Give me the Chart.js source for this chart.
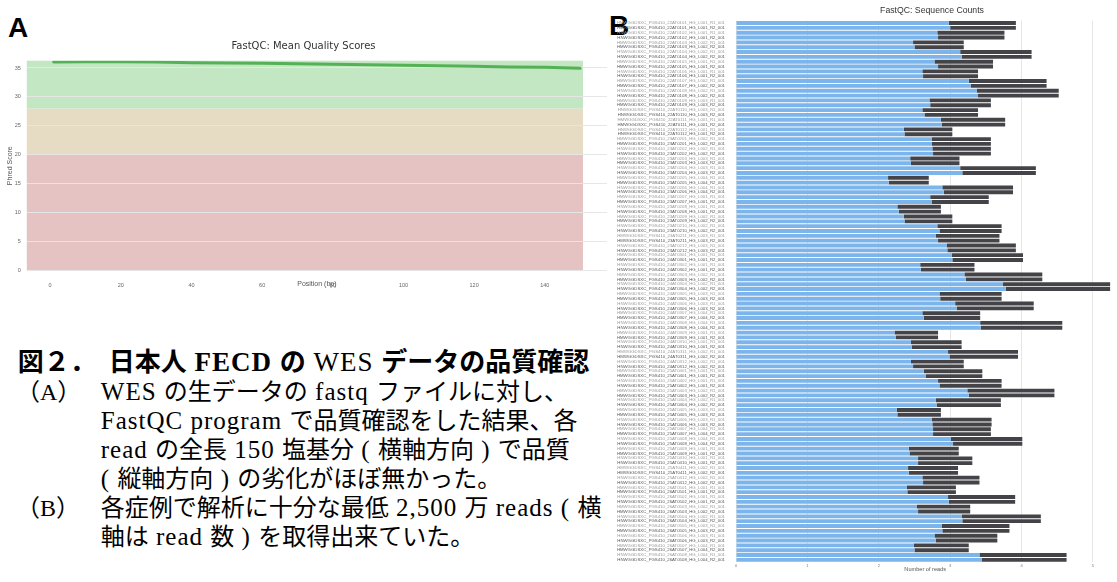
<!DOCTYPE html>
<html lang="ja">
<head>
<meta charset="utf-8">
<script src="https://cdn.jsdelivr.net/npm/chart.js@4"></script>
<style>
  html, body { margin: 0; padding: 0; background: #fff; }
  body { width: 1117px; height: 582px; position: relative; overflow: hidden; }
  .panel-letter { position: absolute; font: bold 28px "Liberation Sans", Arial, sans-serif; color: #000; line-height: 28px; }
  #qualityChart { position: absolute; left: 0; top: 30px; }
  #countsChart { position: absolute; left: 615px; top: 0; }
  #countsTitle { position: absolute; left: 932px; top: 10px; transform: translate(-50%, -50%);
    font: 8.7px "Liberation Sans", Arial, sans-serif; color: #333; white-space: nowrap; }
  #caption { position: absolute; left: 0; top: 347.7px; font-family: "Liberation Serif", "Noto Sans CJK JP", serif; color: #000; white-space: nowrap; }
  #caption .l { letter-spacing: 1px; line-height: 0; }
  .cap-title { margin-left: 17.8px; font-size: 26px; line-height: 30px; font-weight: bold; }
  .cap-title .l { font-size: 27px; }
  .cap-title .thin { font-weight: normal; }
  .item { position: relative; padding-left: 100.8px; font-size: 24px; line-height: 29px; }
  .item .l { font-size: 25px; }
  .item .tag { position: absolute; left: 16px; top: 0; }
</style>
</head>
<body>
<div class="panel-letter" style="left:8px; top:14px;">A</div>
<div class="panel-letter" style="left:609px; top:12px;">B</div>
<canvas id="qualityChart" width="634" height="265"></canvas>
<canvas id="countsChart" width="502" height="582"></canvas>
<div id="countsTitle">FastQC: Sequence Counts</div>
<div id="caption">
  <div class="cap-title">図２．　日本人<span class="l"> FECD </span>の<span class="l thin"> WES </span>データの品質確認</div>
  <div class="item"><span class="tag">（A）</span><span class="l">WES </span>の生データの<span class="l"> fastq </span>ファイルに対し、<br><span class="l">FastQC program </span>で品質確認をした結果、各<br><span class="l">read </span>の全長<span class="l"> 150 </span>塩基分<span class="l"> ( </span>横軸方向<span class="l"> ) </span>で品質<br><span class="l">( </span>縦軸方向<span class="l"> ) </span>の劣化がほぼ無かった。</div>
  <div class="item"><span class="tag">（B）</span>各症例で解析に十分な最低<span class="l"> 2,500 </span>万<span class="l"> reads ( </span>横<br>軸は<span class="l"> read </span>数<span class="l"> ) </span>を取得出来ていた。</div>
</div>
<script>
// ---- panel A: mean quality per base position ----
const positions = [1, 10, 20, 30, 40, 50, 60, 70, 80, 90, 100, 110, 120, 130, 140, 150];
const meanQuality = [36.04, 36.1, 36.1, 36.04, 35.92, 35.87, 35.81, 35.75, 35.63, 35.58, 35.46, 35.4, 35.29, 35.17, 35.12, 34.94];
const positionTicks = [0, 20, 40, 60, 80, 100, 120, 140];
const phredTicks = [0, 5, 10, 15, 20, 25, 30, 35];
// quality zones: [from, to] in Phred score
const poorZone = [0, 20];
const warnZone = [20, 28];
const goodZone = [28, 36.26];

// ---- panel B: read counts per fastq file (x 10^7 reads) ----
const sampleNames = [
  "HMWGGDSXC_PGS410_22AT0101_HG_L001", "HNWGGDSXC_PGS410_22AT0102_HG_L001", "HMWGGDSXC_PGS410_22AT0103_HG_L002",
  "HNWGGDSXC_PGS410_22AT0104_HG_L002", "HMWGGDSXC_PGS410_22AT0105_HG_L001", "HNWGGDSXC_PGS410_22AT0106_HG_L001",
  "HMWGGDSXC_PGS410_22AT0107_HG_L002", "HNWGGDSXC_PGS410_22AT0108_HG_L002", "HMWGGDSXC_PGS410_22AT0109_HG_L003",
  "HNWGGDSXC_PGS410_22AT0110_HG_L003", "HMWGGDSXC_PGS410_22AT0111_HG_L001", "HNWGGDSXC_PGS410_22AT0112_HG_L001",
  "HMWGGDSXC_PGS410_23AT0201_HG_L002", "HNWGGDSXC_PGS410_23AT0202_HG_L002", "HMWGGDSXC_PGS410_23AT0203_HG_L003",
  "HNWGGDSXC_PGS410_23AT0204_HG_L003", "HMWGGDSXC_PGS410_23AT0205_HG_L004", "HNWGGDSXC_PGS410_23AT0206_HG_L004",
  "HMWGGDSXC_PGS410_23AT0207_HG_L001", "HNWGGDSXC_PGS410_23AT0208_HG_L001", "HMWGGDSXC_PGS410_23AT0209_HG_L002",
  "HNWGGDSXC_PGS410_23AT0210_HG_L002", "HMWGGDSXC_PGS410_23AT0211_HG_L003", "HNWGGDSXC_PGS410_23AT0212_HG_L003",
  "HMWGGDSXC_PGS410_24AT0301_HG_L001", "HNWGGDSXC_PGS410_24AT0302_HG_L001", "HMWGGDSXC_PGS410_24AT0303_HG_L002",
  "HNWGGDSXC_PGS410_24AT0304_HG_L002", "HMWGGDSXC_PGS410_24AT0305_HG_L003", "HNWGGDSXC_PGS410_24AT0306_HG_L003",
  "HMWGGDSXC_PGS410_24AT0307_HG_L004", "HNWGGDSXC_PGS410_24AT0308_HG_L004", "HMWGGDSXC_PGS410_24AT0309_HG_L001",
  "HNWGGDSXC_PGS410_24AT0310_HG_L001", "HMWGGDSXC_PGS410_24AT0311_HG_L002", "HNWGGDSXC_PGS410_24AT0312_HG_L002",
  "HMWGGDSXC_PGS410_25AT0401_HG_L001", "HNWGGDSXC_PGS410_25AT0402_HG_L001", "HMWGGDSXC_PGS410_25AT0403_HG_L002",
  "HNWGGDSXC_PGS410_25AT0404_HG_L002", "HMWGGDSXC_PGS410_25AT0405_HG_L003", "HNWGGDSXC_PGS410_25AT0406_HG_L003",
  "HMWGGDSXC_PGS410_25AT0407_HG_L004", "HNWGGDSXC_PGS410_25AT0408_HG_L004", "HMWGGDSXC_PGS410_25AT0409_HG_L001",
  "HNWGGDSXC_PGS410_25AT0410_HG_L001", "HMWGGDSXC_PGS410_25AT0411_HG_L002", "HNWGGDSXC_PGS410_25AT0412_HG_L002",
  "HMWGGDSXC_PGS410_26AT0501_HG_L001", "HNWGGDSXC_PGS410_26AT0502_HG_L001", "HMWGGDSXC_PGS410_26AT0503_HG_L002",
  "HNWGGDSXC_PGS410_26AT0504_HG_L002", "HMWGGDSXC_PGS410_26AT0505_HG_L003", "HNWGGDSXC_PGS410_26AT0506_HG_L003",
  "HMWGGDSXC_PGS410_26AT0507_HG_L004", "HNWGGDSXC_PGS410_26AT0508_HG_L004"
];
const readSuffixes = ["_R1_001", "_R2_001"];
// unique reads, one value per fastq row (R1, R2 of each sample)
const uniqueReads = [
  2.98, 3.00, 2.82, 2.83, 2.48, 2.50, 3.14, 3.16, 2.78, 2.83, 2.61, 2.62, 3.26, 3.29, 3.37, 3.39,
  2.71, 2.72, 2.61, 2.64, 2.87, 2.88, 2.35, 2.36, 2.74, 2.74, 2.75, 2.76, 2.44, 2.45, 3.14, 3.17,
  2.13, 2.14, 2.89, 2.91, 2.72, 2.74, 2.26, 2.28, 2.35, 2.36, 2.82, 2.85, 2.80, 2.83, 2.95, 2.96,
  3.02, 3.03, 2.58, 2.59, 3.20, 3.22, 3.74, 3.78, 2.85, 2.86, 3.07, 3.09, 2.61, 2.63, 3.42, 3.43,
  2.22, 2.24, 2.45, 2.46, 2.97, 2.99, 2.45, 2.48, 2.63, 2.66, 2.83, 2.85, 3.24, 3.26, 2.80, 2.81,
  2.25, 2.26, 2.74, 2.75, 2.76, 2.76, 3.01, 3.04, 2.42, 2.43, 2.55, 2.55, 2.41, 2.42, 2.61, 2.62,
  2.39, 2.40, 2.97, 2.98, 2.53, 2.55, 3.16, 3.17, 2.88, 2.89, 2.78, 2.80, 2.49, 2.50, 3.41, 3.44
];
// total reads per sample (same for R1 and R2)
const totalReads = [
  3.92, 3.76, 3.19, 4.14, 3.60, 3.39, 4.35, 4.52, 3.57, 3.39, 3.77, 3.03, 3.57, 3.57,
  3.13, 4.20, 2.70, 3.88, 3.54, 2.87, 3.03, 3.72, 3.69, 3.92, 4.02, 3.34, 4.29, 5.24,
  3.72, 4.17, 3.42, 4.57, 2.83, 3.16, 3.95, 3.19, 3.45, 3.72, 4.46, 3.71, 2.87, 3.58,
  3.57, 4.01, 3.12, 3.31, 3.11, 3.41, 3.08, 3.91, 3.28, 4.27, 3.83, 3.66, 3.26, 4.63
];
const countTicks = [0, 1, 2, 3, 4, 5];

document.addEventListener("DOMContentLoaded", function () {
  // zones are painted under the grid so the grid shows through as light lines
  const zonePlugin = {
    id: "zones",
    beforeDraw(chart) {
      const { ctx, scales } = chart;
      const x0 = scales.x.getPixelForValue(-6.6);
      const x1 = scales.x.getPixelForValue(150.8);
      [[poorZone, "#e6c3c3"], [warnZone, "#e6dcc3"], [goodZone, "#c3e6c3"]].forEach(([z, c]) => {
        const yTop = scales.y.getPixelForValue(z[1]);
        const yBot = scales.y.getPixelForValue(z[0]);
        ctx.save();
        ctx.fillStyle = c;
        ctx.fillRect(x0, yTop, x1 - x0, yBot - yTop);
        ctx.restore();
      });
    },
  };

  const ctxQuality = document.getElementById("qualityChart").getContext("2d");
  new Chart(ctxQuality, {
    type: "line",
    data: {
      datasets: [
        {
          data: positions.map((p, i) => ({ x: p, y: meanQuality[i] })),
          borderColor: "#55b155",
          borderWidth: 3,
          borderCapStyle: "round",
          pointRadius: 0,
          tension: 0,
        },
      ],
    },
    options: {
      responsive: false,
      animation: false,
      layout: { padding: { top: 0, right: 27, bottom: 6.3, left: 0 } },
      plugins: {
        legend: { display: false },
        tooltip: { enabled: false },
        title: {
          display: true,
          text: "FastQC: Mean Quality Scores",
          color: "#333",
          font: { family: "DejaVu Sans", size: 10, weight: "normal" },
          padding: { top: 10.7, bottom: 8 },
        },
      },
      scales: {
        x: {
          type: "linear",
          min: -6.6,
          max: 157.6,
          afterBuildTicks: (s) => { s.ticks = positionTicks.map((v) => ({ value: v })); },
          afterFit: (s) => { s.height = 18; },
          grid: { display: false },
          border: { display: false },
          ticks: { color: "#666", font: { family: "Liberation Sans", size: 5.5 }, padding: 3, maxRotation: 0 },
          title: {
            display: true,
            text: "Position (bp)",
            color: "#555",
            font: { family: "Liberation Sans", size: 7 },
            padding: { top: 0, bottom: 0.2 },
          },
        },
        y: {
          min: 0,
          max: 36.26,
          afterBuildTicks: (s) => { s.ticks = phredTicks.map((v) => ({ value: v })); },
          afterFit: (s) => { s.width = 26.8; },
          grid: { color: "#e6e6e6", lineWidth: 1, drawTicks: false },
          border: { display: false },
          ticks: { color: "#666", font: { family: "Liberation Sans", size: 5.5 }, padding: 6 },
          title: {
            display: true,
            text: "Phred Score",
            color: "#555",
            font: { family: "Liberation Sans", size: 7 },
            padding: { top: 6.1, bottom: 0 },
          },
        },
      },
    },
    plugins: [zonePlugin],
  });

  const rowLabels = [];
  const duplicateReads = [];
  sampleNames.forEach((name, s) => {
    readSuffixes.forEach((suffix, r) => {
      const row = s * 2 + r;
      rowLabels.push(name + suffix);
      duplicateReads.push(+(totalReads[s] - uniqueReads[row]).toFixed(2));
    });
  });

  const ctxCounts = document.getElementById("countsChart").getContext("2d");
  new Chart(ctxCounts, {
    type: "bar",
    data: {
      labels: rowLabels,
      datasets: [
        { label: "Unique Reads", data: uniqueReads, backgroundColor: "#7cb5ec" },
        { label: "Duplicate Reads", data: duplicateReads, backgroundColor: "#434348" },
      ],
    },
    options: {
      indexAxis: "y",
      responsive: false,
      animation: false,
      layout: { padding: { top: 20.6, right: 2.6, bottom: 9.3, left: 0 } },
      datasets: { bar: { barPercentage: 0.8, categoryPercentage: 1, borderWidth: 0 } },
      plugins: { legend: { display: false }, tooltip: { enabled: false } },
      scales: {
        x: {
          stacked: true,
          min: 0,
          max: 5.3,
          afterBuildTicks: (s) => { s.ticks = countTicks.map((v) => ({ value: v })); },
          afterFit: (s) => { s.height = 10.4; },
          grid: { color: "#e6e6e6", drawTicks: false },
          border: { display: false },
          ticks: { color: "#777", font: { family: "Liberation Sans", size: 4 }, padding: 1 },
          title: {
            display: true,
            text: "Number of reads",
            color: "#555",
            font: { family: "Liberation Sans", size: 5.6 },
            padding: { top: 0, bottom: 0 },
          },
        },
        y: {
          stacked: true,
          afterFit: (s) => { s.width = 121; },
          grid: { display: false },
          border: { display: false },
          ticks: {
            autoSkip: false,
            padding: 3,
            color: (c) => (c.index % 2 ? "#555" : "#999"),
            font: { family: "Liberation Sans", size: 4.3 },
          },
        },
      },
    },
  });
});
</script>
</body>
</html>
